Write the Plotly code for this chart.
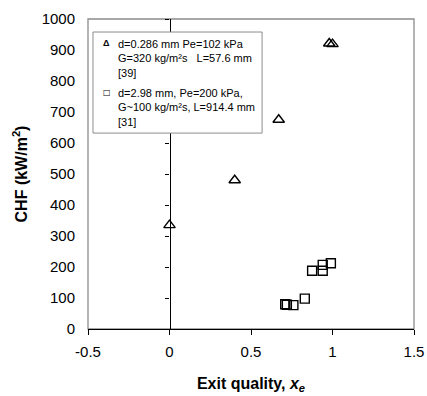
import plotly.graph_objects as go

# Critical heat flux vs exit quality for two data sets
tri_x = [0.0, 0.40, 0.67, 0.98, 1.00]
tri_chf = [335, 480, 675, 921, 919]
tri_label = "d=0.286 mm Pe=102 kPa<br>G=320 kg/m²s   L=57.6 mm<br>[39]"

sq_x = [0.71, 0.72, 0.76, 0.83, 0.875, 0.94, 0.94, 0.99]
sq_chf = [80, 78, 77, 98, 188, 188, 207, 212]
sq_label = "d=2.98 mm, Pe=200 kPa,<br>G~100 kg/m²s, L=914.4 mm<br>[31]"

x_ticks = [-0.5, 0, 0.5, 1, 1.5]
x_tick_text = ["-0.5", "0", "0.5", "1", "1.5"]
y_ticks = [0, 100, 200, 300, 400, 500, 600, 700, 800, 900, 1000]

FONT = "Liberation Sans, Arial, sans-serif"
FRAME = "#8c8c8c"

fig = go.Figure()

fig.add_trace(go.Scatter(
    x=tri_x, y=tri_chf, mode="markers", showlegend=False,
    marker=dict(symbol="triangle-up-open", size=10, color="black",
                line=dict(width=1.4, color="black")),
))
fig.add_trace(go.Scatter(
    x=sq_x, y=sq_chf, mode="markers", showlegend=False, yaxis="y2",
    marker=dict(symbol="square-open", size=9, color="black",
                line=dict(width=1.4, color="black")),
))

# legend box (domain coordinates of the plot area)
box = dict(x0=0.0153, x1=0.534, y0=0.632, y1=0.958)
shapes = [
    dict(type="rect", xref="x domain", yref="y domain",
         x0=0, x1=1, y0=0, y1=1,
         line=dict(color=FRAME, width=1.3), layer="below"),
    dict(type="rect", xref="x domain", yref="y domain",
         x0=box["x0"], x1=box["x1"], y0=box["y0"], y1=box["y1"],
         fillcolor="white", line=dict(color=FRAME, width=1), layer="above"),
]

sym_x = 0.058
txt_x = 0.086
annotations = [
    dict(text="<b>Δ</b>", x=sym_x, y=0.921, xref="x domain", yref="y domain",
         showarrow=False, xanchor="center", yanchor="middle",
         font=dict(family=FONT, size=9, color="black")),
    dict(text=tri_label, x=txt_x, y=0.945, xref="x domain", yref="y domain",
         showarrow=False, xanchor="left", yanchor="top", align="left",
         font=dict(family=FONT, size=11, color="black")),
    dict(text="<b>□</b>", x=sym_x, y=0.763, xref="x domain", yref="y domain",
         showarrow=False, xanchor="center", yanchor="middle",
         font=dict(family="DejaVu Sans", size=8, color="black")),
    dict(text=sq_label, x=txt_x, y=0.787, xref="x domain", yref="y domain",
         showarrow=False, xanchor="left", yanchor="top", align="left",
         font=dict(family=FONT, size=11, color="black")),
]

fig.update_layout(
    width=427, height=396,
    margin=dict(l=88, r=13, t=19, b=67),
    paper_bgcolor="white", plot_bgcolor="white",
    font=dict(family=FONT, size=15, color="black"),
    showlegend=False,
    xaxis=dict(
        range=[-0.5, 1.5], tickvals=x_ticks, ticktext=x_tick_text,
        showgrid=False, zeroline=False, automargin=False,
        showline=True, linecolor="black", linewidth=1.3,
        ticks="outside", ticklen=5, tickcolor="black", tickwidth=1.3,
        ticklabelstandoff=4, tickfont=dict(size=15),
        title=dict(text="<b>Exit quality, <i>x<sub>e</sub></i></b>",
                   font=dict(size=16), standoff=18),
    ),
    yaxis=dict(
        range=[0, 1000], tickvals=y_ticks, automargin=False,
        showgrid=False, zeroline=False, showline=False, ticks="",
        ticklabelstandoff=12, tickfont=dict(size=15),
        title=dict(text="<b>CHF (kW/m<sup>2</sup>)</b>",
                   font=dict(size=16), standoff=10),
    ),
    yaxis2=dict(
        range=[0, 1000], tickvals=y_ticks, overlaying="y",
        anchor="free", position=0.25, side="left", automargin=False,
        showgrid=False, zeroline=False, showticklabels=False,
        showline=True, linecolor="black", linewidth=1.3,
        ticks="outside", ticklen=4, tickcolor="black", tickwidth=1.3,
    ),
    shapes=shapes,
    annotations=annotations,
)

fig.write_html("out.html")
